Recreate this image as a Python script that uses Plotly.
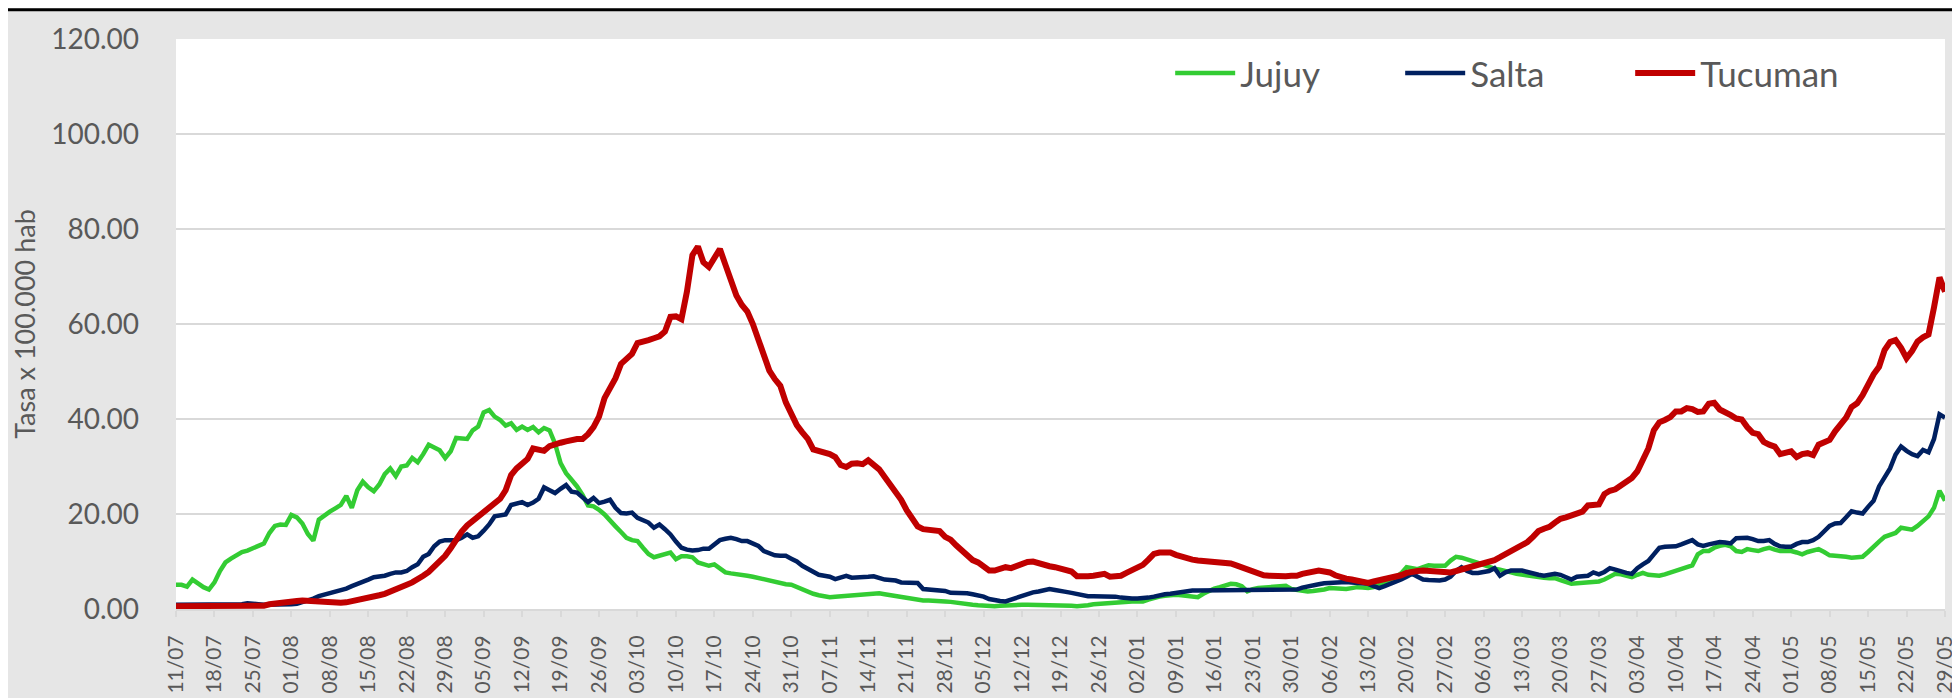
import pandas as pd
import plotly.graph_objects as go

fechas = pd.date_range("2020-07-11", "2021-05-29", freq="D")

jujuy = [
    5.1, 5.1, 4.7, 6.2, 5.4, 4.6, 4.1, 5.6, 8.0, 9.8,
    10.6, 11.3, 12.0, 12.3, 12.7, 13.3, 13.8, 16.0, 17.5, 17.8,
    17.7, 19.8, 19.3, 18.0, 15.8, 14.4, 18.8, 19.8, 20.5, 21.2,
    21.9, 23.8, 21.3, 25.0, 26.8, 25.6, 24.8, 26.2, 28.4, 29.6,
    28.0, 30.0, 30.2, 31.8, 30.9, 32.6, 34.6, 34.0, 33.4, 31.8,
    33.2, 36.0, 36.0, 35.8, 37.6, 38.4, 41.4, 41.9, 40.5, 39.8,
    38.6, 39.1, 37.7, 38.4, 37.7, 38.3, 37.2, 38.1, 37.6, 34.8,
    30.7, 28.6, 27.2, 25.8, 24.0, 21.8, 21.6, 20.9, 19.9, 18.8,
    17.4, 16.2, 15.0, 14.5, 14.3, 12.9, 11.6, 10.9, 11.2, 11.5,
    11.9, 10.5, 11.1, 11.1, 10.9, 9.8, 9.4, 9.1, 9.4, 8.5,
    7.7, 7.5, 7.4, 7.2, 7.0, 6.8, 6.5, 6.2, 5.9, 5.6,
    5.3, 5.2, 5.1, 4.6, 4.0, 3.5, 3.2, 2.9, 2.7, 2.5,
    2.6, 2.7, 2.8, 3.0, 3.1, 3.2, 3.3, 3.4, 3.3, 3.1,
    2.9, 2.6, 2.4, 2.2, 2.1, 1.9, 1.8, 1.8, 1.8, 1.7,
    1.6, 1.5, 1.3, 1.1, 1.0, 0.9, 0.8, 0.7, 0.6, 0.6,
    0.7, 0.8, 0.9, 0.9, 0.9, 0.9, 0.9, 0.9, 0.9, 0.9,
    0.8, 0.8, 0.7, 0.7, 0.6, 0.6, 0.8, 1.0, 1.1, 1.1,
    1.3, 1.5, 1.6, 1.6, 1.6, 1.6, 1.6, 2.0, 2.4, 2.6,
    2.8, 3.0, 3.0, 2.9, 2.8, 2.7, 2.5, 3.2, 3.8, 4.3,
    4.6, 4.9, 5.3, 5.2, 4.8, 3.7, 4.2, 4.4, 4.5, 4.6,
    4.7, 4.8, 4.9, 4.2, 4.0, 3.8, 3.7, 3.8, 3.9, 4.1,
    4.4, 4.3, 4.1, 4.2, 4.4, 4.6, 4.5, 4.4, 4.6, 5.0,
    5.3, 5.9, 6.6, 7.5, 8.8, 8.6, 8.4, 8.8, 9.2, 9.1,
    9.0, 9.1, 10.2, 11.0, 10.8, 10.5, 10.1, 9.7, 9.3, 8.8,
    8.5, 8.3, 8.1, 7.7, 7.4, 7.2, 7.0, 6.9, 6.8, 6.6,
    6.5, 6.5, 6.1, 5.6, 5.3, 5.4, 5.5, 5.6, 5.7, 5.8,
    6.2, 6.8, 7.4, 7.3, 7.0, 6.7, 7.2, 7.6, 7.2, 7.0,
    7.0, 7.3, 7.7, 8.1, 8.4, 8.8, 9.2, 11.5, 12.2, 12.2,
    12.9, 13.3, 13.5, 13.2, 12.2, 12.0, 12.6, 12.4, 12.2, 12.6,
    12.9, 12.5, 12.2, 12.2, 12.2, 11.9, 11.5, 12.0, 12.4, 12.6,
    12.0, 11.3, 11.2, 11.2, 11.0, 10.8, 10.9, 11.0, 12.0, 13.2,
    14.2, 15.2, 15.5, 16.0, 17.1, 17.0, 16.7, 17.5, 18.5, 19.5,
    21.3, 24.9, 22.8,
]

salta = [
    0.9, 0.9, 1.0, 1.0, 0.9, 0.8, 0.9, 0.9, 0.9, 0.9,
    0.8, 0.9, 1.0, 1.2, 1.0, 1.0, 0.9, 0.9, 0.9, 0.8,
    0.8, 1.0, 1.1, 1.4, 1.8, 2.2, 2.7, 3.0, 3.2, 3.5,
    3.9, 4.3, 4.8, 5.2, 5.6, 6.2, 6.7, 6.8, 7.0, 7.4,
    7.7, 7.7, 8.0, 8.8, 9.4, 11.0, 11.6, 13.2, 14.2, 14.5,
    14.5, 14.5, 15.0, 15.7, 15.0, 15.3, 16.5, 17.8, 19.5, 19.8,
    19.9, 21.9, 22.3, 22.5, 21.9, 22.4, 23.2, 25.6, 25.0, 24.4,
    25.3, 26.1, 24.7, 24.5, 23.5, 22.5, 23.4, 22.3, 22.6, 23.0,
    21.3, 20.2, 20.1, 20.3, 19.2, 18.7, 18.2, 17.1, 17.8, 16.8,
    15.7, 14.2, 12.9, 12.5, 12.3, 12.4, 12.7, 12.7, 13.5, 14.5,
    14.8, 15.0, 14.7, 14.3, 14.3, 13.8, 13.3, 12.2, 11.8, 11.3,
    11.2, 11.2, 10.6, 10.0, 9.1, 8.4, 7.7, 7.2, 7.0, 6.8,
    6.3, 6.6, 7.0, 6.6, 6.6, 6.7, 6.8, 6.9, 6.5, 6.2,
    6.1, 6.0, 5.6, 5.6, 5.6, 5.5, 4.2, 4.1, 4.1, 4.1,
    3.8, 3.4, 3.4, 3.4, 3.3, 3.1, 2.9, 2.6, 2.1, 1.8,
    1.7, 1.6, 2.0, 2.5, 2.9, 3.2, 3.5, 3.7, 4.0, 4.2,
    4.0, 3.7, 3.6, 3.4, 3.1, 2.8, 2.7, 2.7, 2.7, 2.7,
    2.7, 2.6, 2.4, 2.2, 2.2, 2.2, 2.2, 2.4, 2.6, 2.9,
    3.1, 3.2, 3.4, 3.6, 3.8, 3.9, 3.9, 3.9, 3.9, 3.9,
    4.0, 4.1, 4.1, 4.0, 3.9, 3.9, 3.9, 3.9, 3.9, 3.9,
    3.9, 3.9, 4.0, 4.0, 4.1, 4.5, 4.8, 5.0, 5.2, 5.4,
    5.5, 5.7, 5.8, 5.7, 5.6, 5.5, 5.4, 5.3, 4.8, 4.4,
    4.8, 5.2, 5.7, 6.2, 6.8, 7.4, 6.8, 6.2, 6.1, 6.0,
    6.0, 6.2, 6.8, 8.0, 8.8, 8.0, 7.6, 7.6, 7.7, 8.0,
    8.6, 7.0, 7.7, 8.1, 8.1, 8.1, 7.8, 7.4, 7.2, 7.0,
    7.1, 7.4, 7.2, 6.8, 6.2, 6.8, 7.0, 7.0, 7.7, 7.3,
    7.8, 8.6, 8.3, 7.9, 7.6, 7.4, 8.6, 9.4, 10.1, 11.5,
    12.9, 13.1, 13.1, 13.2, 13.6, 14.0, 14.5, 13.6, 13.3, 13.6,
    13.9, 14.1, 14.0, 13.8, 14.9, 15.0, 15.0, 14.7, 14.3, 14.3,
    14.5, 13.7, 13.2, 13.1, 13.1, 13.7, 14.1, 14.1, 14.5, 15.2,
    16.4, 17.5, 18.0, 18.1, 19.3, 20.6, 20.3, 20.1, 21.5, 22.8,
    25.8, 27.5, 29.6, 32.5, 34.2, 33.3, 32.6, 32.2, 33.5, 33.0,
    35.8, 41.0, 40.3,
]

tucuman = [
    0.6, 0.6, 0.6, 0.6, 0.6, 0.6, 0.6, 0.6, 0.6, 0.6,
    0.6, 0.6, 0.6, 0.6, 0.6, 0.6, 0.7, 1.0, 1.2, 1.3,
    1.3, 1.5, 1.7, 1.8, 1.7, 1.5, 1.4, 1.3, 1.3, 1.3,
    1.3, 1.4, 1.6, 1.8, 2.0, 2.3, 2.6, 2.9, 3.2, 3.6,
    4.2, 4.7, 5.1, 5.6, 6.2, 7.0, 7.8, 8.8, 9.9, 11.2,
    12.8, 14.6, 16.3, 17.6, 18.6, 19.6, 20.5, 21.4, 22.2, 23.2,
    25.0, 28.2, 29.6, 30.6, 31.6, 33.8, 33.4, 33.3, 34.3, 34.8,
    35.0, 35.3, 35.6, 35.8, 35.8, 36.8, 38.3, 40.5, 44.4, 46.5,
    48.6, 51.6, 52.6, 53.7, 56.0, 56.2, 56.6, 57.0, 57.4, 58.4,
    61.5, 61.6, 61.0, 66.8, 74.5, 76.3, 73.0, 72.0, 74.2, 75.8,
    72.5, 69.0, 66.0, 64.0, 62.6, 60.0, 56.5, 53.0, 50.2, 48.4,
    47.0, 43.5, 41.0, 38.7, 37.2, 35.8, 33.6, 33.3, 33.1, 32.6,
    32.0, 30.3, 29.9, 30.6, 30.7, 30.5, 31.3, 30.3, 29.4, 27.8,
    26.3, 24.9, 23.0, 20.8, 18.8, 17.4, 16.8, 16.6, 16.5, 16.4,
    15.2, 14.6, 13.4, 12.5, 11.2, 10.3, 9.8, 8.9, 8.1, 8.1,
    8.5, 8.8, 8.6, 9.0, 9.7, 9.9, 10.0, 9.6, 9.2, 9.0,
    8.8, 8.6, 8.4, 7.9, 6.9, 6.8, 6.9, 7.0, 7.2, 7.4,
    6.8, 6.9, 7.0, 7.6, 8.2, 8.8, 9.3, 10.4, 11.6, 11.9,
    11.9, 11.9, 11.4, 11.0, 10.7, 10.4, 10.2, 10.1, 10.0, 10.0,
    9.9, 9.8, 9.6, 9.2, 8.8, 8.3, 7.8, 7.4, 7.1, 7.0,
    6.9, 6.9, 6.9, 7.0, 7.0, 7.4, 7.7, 8.0, 8.1, 7.9,
    7.7, 7.1, 6.6, 6.4, 6.2, 6.0, 5.8, 5.5, 5.8, 6.0,
    6.2, 6.4, 6.8, 7.1, 7.6, 7.9, 8.0, 8.1, 8.0, 7.9,
    7.8, 7.7, 7.7, 8.0, 8.3, 8.6, 8.9, 9.1, 9.5, 9.9,
    10.3, 10.9, 11.5, 12.1, 12.8, 13.4, 14.1, 15.2, 16.4, 16.9,
    17.3, 18.2, 19.0, 19.3, 19.6, 20.2, 20.5, 21.8, 21.9, 22.0,
    24.2, 24.9, 25.2, 26.0, 26.5, 27.6, 29.0, 31.5, 33.8, 37.6,
    39.3, 39.8, 40.4, 41.6, 41.6, 42.3, 42.1, 41.5, 41.6, 43.2,
    43.4, 42.0, 41.5, 40.8, 40.1, 39.9, 38.3, 37.1, 36.8, 35.2,
    34.6, 34.2, 32.6, 33.0, 33.2, 32.0, 32.6, 32.8, 32.4, 34.6,
    35.0, 35.6, 37.4, 39.0, 40.3, 42.5, 43.3, 45.0, 47.4, 49.4,
    51.0, 54.5, 56.2, 56.6, 55.0, 52.8, 54.3, 56.3, 57.2, 57.8,
    63.5, 69.8, 66.8,
]

gris = "#595959"
fuente = "Lato, Open Sans, sans-serif"

fig = go.Figure()
fig.add_trace(go.Scatter(x=fechas, y=jujuy, name="Jujuy", mode="lines",
                         line=dict(color="#33cc33", width=4.5)))
fig.add_trace(go.Scatter(x=fechas, y=salta, name="Salta", mode="lines",
                         line=dict(color="#002060", width=4.5)))
fig.add_trace(go.Scatter(x=fechas, y=tucuman, name="Tucuman", mode="lines",
                         line=dict(color="#c00000", width=6)))

fig.update_layout(
    width=1960, height=698,
    margin=dict(l=168, r=15, t=31, b=91),
    paper_bgcolor="#e6e6e6", plot_bgcolor="white",
    font=dict(family=fuente, color=gris),
    showlegend=True,
    legend=dict(orientation="h", x=0.562, y=0.94, xanchor="left", yanchor="middle",
                bgcolor="rgba(0,0,0,0)", font=dict(size=35, color=gris),
                itemwidth=60, entrywidth=155, entrywidthmode="pixels",
                traceorder="normal"),
)
fig.update_xaxes(
    range=[fechas[0], fechas[-1]], tick0=fechas[0], dtick=7 * 86400000,
    tickformat="%d/%m", tickangle=-90, tickfont=dict(size=21, color=gris),
    ticks="outside", ticklen=6, tickwidth=2, tickcolor="#d9d9d9",
    showgrid=False, showline=True, linecolor="#d9d9d9", linewidth=2,
    ticklabelstandoff=10,
)
fig.update_yaxes(
    range=[0, 120], dtick=20, tickformat=".2f", tickfont=dict(size=28, color=gris),
    gridcolor="#d9d9d9", gridwidth=2, zeroline=False, showline=False,
    ticklabelstandoff=36,
    title=dict(text="Tasa x 100.000 hab", font=dict(size=27, color=gris), standoff=10),
)
fig.add_shape(type="line", xref="paper", yref="paper",
              x0=-0.1, x1=1.01, y0=1 + 29.5 / 576, y1=1 + 29.5 / 576,
              line=dict(color="black", width=3))

fig.write_html("out.html")
